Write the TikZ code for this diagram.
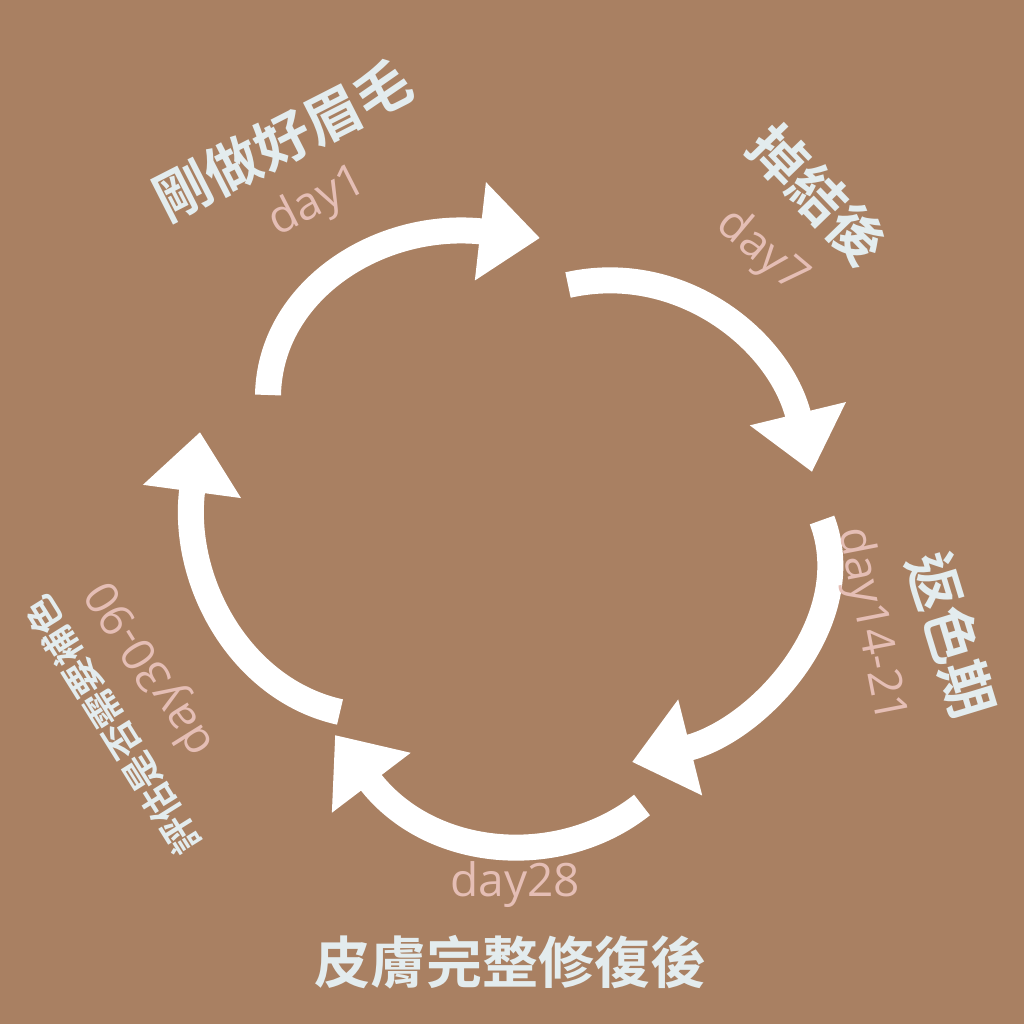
\documentclass[tikz,border=0pt]{standalone}
\usepackage{fontspec}
\newfontfamily\cjk{Noto Sans CJK TC Bold}
\setmainfont{Open Sans}
\usetikzlibrary{arrows.meta}
\definecolor{bgbrown}{HTML}{A98062}
\definecolor{titlegray}{HTML}{E3ECEE}
\definecolor{daypink}{HTML}{E5BEB5}
\begin{document}
\begin{tikzpicture}[x=1pt,y=-1pt,
	title/.style={text=titlegray, font=\cjk\fontsize{56}{56}\selectfont, inner sep=0pt},
	small/.style={text=titlegray, font=\cjk\fontsize{37}{37}\selectfont, inner sep=0pt},
	daytext/.style={text=daypink, font=\fontsize{46}{46}\selectfont, inner sep=0pt},
	bigarrow/.style={white, line width=26pt, -{Triangle[length=60pt,width=95pt]}}]
	\fill[bgbrown] (0,0) rectangle (1024,1024);
	\useasboundingbox (0,0) rectangle (1024,1024);

	% arrow ends
	\coordinate (a1s) at (268,395); \coordinate (a1e) at (540,238);
	\coordinate (a2s) at (568,285); \coordinate (a2e) at (812,472);
	\coordinate (a3s) at (822,520); \coordinate (a3e) at (632,762);
	\coordinate (a4s) at (642,805); \coordinate (a4e) at (335,735);
	\coordinate (a5s) at (340,712); \coordinate (a5e) at (200,432);

	\draw[bigarrow] (a1s) .. controls (270,290) and (380,220) .. (a1e);
	\draw[bigarrow] (a2s) .. controls (680,260) and (780,340) .. (a2e);
	\draw[bigarrow] (a3s) .. controls (860,620) and (760,730) .. (a3e);
	\draw[bigarrow] (a4s) .. controls (560,870) and (430,860) .. (a4e);
	\draw[bigarrow] (a5s) .. controls (240,690) and (180,580) .. (a5e);

	% labels
	\node[title, rotate=27] (t1) at (283,140) {剛做好眉毛};
	\node[daytext, rotate=27] (d1) at (318,202) {day1};
	\node[title, rotate=-46] (t2) at (818,195) {掉結後};
	\node[daytext, rotate=-40] (d2) at (762,252) {day7};
	\node[title, rotate=-73] (t3) at (952,635) {返色期};
	\node[daytext, rotate=-79] (d3) at (870,625) {day14-21};
	\node[daytext] (d4) at (515,885) {day28};
	\node[title] (t4) at (510,962) {皮膚完整修復後};
	\node[small, rotate=122] (t5) at (112,725) {評估是否需要補色};
	\node[daytext, rotate=122] (d5) at (152,668) {day30-90};
\end{tikzpicture}
\end{document}
